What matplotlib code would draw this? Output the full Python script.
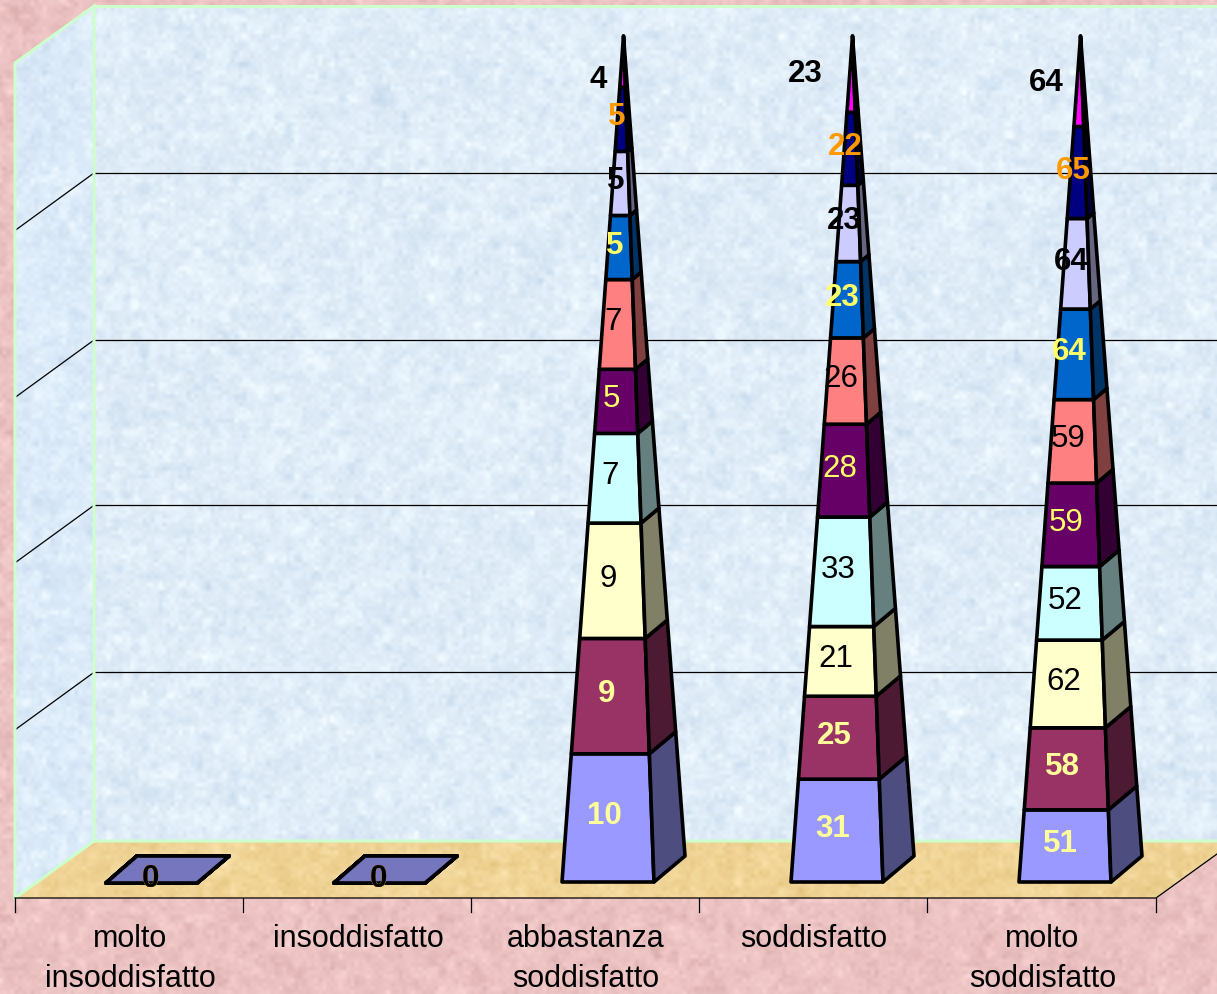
import numpy as np
import matplotlib
matplotlib.use("Agg")
import matplotlib.pyplot as plt
from matplotlib.patches import Polygon

# ---- data -------------------------------------------------------------
categories = ["molto\ninsoddisfatto", "insoddisfatto", "abbastanza\nsoddisfatto",
              "soddisfatto", "molto\nsoddisfatto"]
# one row per stacked series, bottom of the pyramid first
series_1 = [0, 0, 10, 31, 51]
series_2 = [0, 0, 9, 25, 58]
series_3 = [0, 0, 9, 21, 62]
series_4 = [0, 0, 7, 33, 52]
series_5 = [0, 0, 5, 28, 59]
series_6 = [0, 0, 7, 26, 59]
series_7 = [0, 0, 5, 23, 64]
series_8 = [0, 0, 5, 23, 64]
series_9 = [0, 0, 5, 22, 65]
series_10 = [0, 0, 4, 23, 64]
grid_percent = [20.2, 40.2, 60, 80]

# ---- styling ----------------------------------------------------------
face_colors = ["#9999ff", "#993366", "#ffffcc", "#ccffff", "#660066",
               "#ff8080", "#0066cc", "#ccccff", "#000080", "#ff00ff"]
side_colors = ["#4d4d80", "#4d1a33", "#808066", "#668080", "#330033",
               "#804040", "#003366", "#666680", "#000040", "#800080"]
label_colors = ["#ffff99", "#ffff99", "black", "black", "#ffff66",
                "black", "#ffff66", "black", "#ff9900", "black"]
label_weights = ["bold", "bold", "normal", "normal", "normal",
                 "normal", "bold", "bold", "bold", "bold"]
FONT = "Liberation Sans"
W, H = 1217, 994
GREEN = "#ccffcc"
EDGE_LW = 2.6
LABEL_SIZE = 22.5

# ---- projection of the 3-D box, in figure pixels ----------------------
FLOOR_BACK_Y, WALL_TOP_Y = 841, 6
FRONT_Y, BACK_Y, APEX_Y = 882, 856, 36
BASE_LEFT = [106, 334, 562, 791, 1019]
BASE_WIDTH, BASE_DEPTH_X = 92, 31
TICK_X = [15, 243, 471, 699, 927, 1156]

rng = np.random.default_rng(11)


def mottled(h, w, base, amp, cells=(4, 9, 24)):
    """Soft speckled surface built from a few octaves of coarse noise."""
    field = np.zeros((h, w))
    yy = np.arange(h)
    xx = np.arange(w)
    for c, weight in zip(cells, (0.9, 1.0, 0.45)):
        coarse = rng.normal(size=(h // c + 3, w // c + 3))
        fy, fx = yy / c, xx / c
        y0, x0 = fy.astype(int), fx.astype(int)
        ty, tx = (fy - y0)[:, None], (fx - x0)[None, :]
        ty, tx = ty * ty * (3 - 2 * ty), tx * tx * (3 - 2 * tx)
        field += weight * ((1 - ty) * (1 - tx) * coarse[np.ix_(y0, x0)]
                           + (1 - ty) * tx * coarse[np.ix_(y0, x0 + 1)]
                           + ty * (1 - tx) * coarse[np.ix_(y0 + 1, x0)]
                           + ty * tx * coarse[np.ix_(y0 + 1, x0 + 1)])
    field /= field.std()
    img = np.asarray(base, float)[None, None, :] + field[:, :, None] * np.asarray(amp, float)
    return np.clip(img / 255, 0, 1)


def textured(ax, verts, base, amp, zorder):
    im = ax.imshow(mottled(H, W, base, amp), extent=(0, W, H, 0), zorder=zorder,
                   interpolation="bilinear", aspect="auto")
    clip = Polygon(verts, closed=True, transform=ax.transData)
    im.set_clip_path(clip)


def wall_y(percent):
    return FLOOR_BACK_Y - (FLOOR_BACK_Y - WALL_TOP_Y) * percent / 100


fig = plt.figure(figsize=(W / 100, H / 100), dpi=100)
ax = fig.add_axes([0, 0, 1, 1])
ax.set_xlim(0, W)
ax.set_ylim(H, 0)
ax.axis("off")

# page, back wall, side wall and floor
textured(ax, [(0, 0), (W, 0), (W, H), (0, H)], (236, 194, 194), (4, 5, 5), 0)
textured(ax, [(94, 6), (W, 6), (W, 841), (94, 841)], (224, 237, 248), (5, 4, 2.5), 1)
textured(ax, [(15, 63), (94, 6), (94, 841), (15, 898)], (220, 235, 249), (5, 4, 2.5), 1)
textured(ax, [(15, 898), (94, 841), (W, 841), (W, 854), (1156, 898)],
         (240, 212, 150), (3, 4, 6), 1)

# gridlines on both walls, then the box outline
for p in grid_percent:
    y = wall_y(p)
    ax.plot([94, W], [y, y], color="black", lw=0.9, zorder=2)
    ax.plot([15, 94], [y + 57.5, y], color="black", lw=0.9, zorder=2)
for xs, ys in [([15, 15, 94, 94], [898, 63, 6, 841]), ([15, 94, W], [898, 841, 841]),
               ([94, W], [6, 6])]:
    ax.plot(xs, ys, color=GREEN, lw=2.2, zorder=3, solid_joinstyle="miter")

# category axis
ax.plot([15, 1156, W], [898, 898, 854], color="black", lw=0.9, zorder=3)
for x in TICK_X:
    ax.plot([x, x], [898, 912], color="black", lw=0.9, zorder=3)
for i, name in enumerate(categories):
    lines = name.split("\n")
    xc = (TICK_X[i] + TICK_X[i + 1]) / 2
    for j, line in enumerate(lines):
        ax.text(xc + 1, 939 + 40 * j, line, ha="center", va="center", fontsize=22,
                family=FONT, color="black", zorder=4)

# stacked pyramids, each scaled to the total of its category
stack = np.array([series_1, series_2, series_3, series_4, series_5,
                  series_6, series_7, series_8, series_9, series_10], float)
totals = stack.sum(axis=0)
# the topmost label of each pyramid sits away from the spire
top_nudge = {2: (-25, 18), 3: (-47, 0), 4: (-33, 2)}

for col in range(stack.shape[1]):
    left = BASE_LEFT[col]
    right = left + BASE_WIDTH
    back = right + BASE_DEPTH_X
    apex = (left + back) / 2
    total = totals[col]
    cum = np.cumsum(stack[:, col])
    for s in range(stack.shape[0]):
        t0 = (cum[s] - stack[s, col]) / total if total else 0.0
        t1 = cum[s] / total if total else 0.0

        def front(t):
            y = FRONT_Y + (APEX_Y - FRONT_Y) * t
            return (left + (apex - left) * t, y), (right + (apex - right) * t, y)

        def rear(t):
            return (back + (apex - back) * t, BACK_Y + (APEX_Y - BACK_Y) * t)

        if total:
            l0, r0 = front(t0)
            l1, r1 = front(t1)
            ax.add_patch(Polygon([l0, r0, r1, l1], closed=True, fc=face_colors[s], ec="black",
                                 lw=EDGE_LW, joinstyle="round", zorder=5 + s))
            ax.add_patch(Polygon([r0, rear(t0), rear(t1), r1], closed=True, fc=side_colors[s],
                                 ec="black", lw=EDGE_LW, joinstyle="round", zorder=5 + s))
        else:
            # an empty category collapses to a flat base on the floor
            ax.add_patch(Polygon([(left, FRONT_Y + 1), (right - 1, FRONT_Y + 1),
                                  (back, BACK_Y), (left + BASE_DEPTH_X, BACK_Y)],
                                 closed=True, fc="#7676bf", ec="black", lw=EDGE_LW,
                                 joinstyle="round", zorder=5))

        tm = (t0 + t1) / 2
        lm, rm = front(tm)
        x = (lm[0] + rm[0]) / 2 - 5
        y = lm[1] - 2
        if total == 0:
            x, y = left + 44, FRONT_Y - 3
        elif s == stack.shape[0] - 1:
            dx, dy = top_nudge[col]
            x, y = (lm[0] + rm[0]) / 2 + dx, lm[1] + dy
        ax.text(x, y, f"{stack[s, col]:.0f}", ha="center", va="center", fontsize=LABEL_SIZE,
                family=FONT, color=label_colors[s], fontweight=label_weights[s], zorder=30 + s)

fig.savefig("out.png", dpi=100)
